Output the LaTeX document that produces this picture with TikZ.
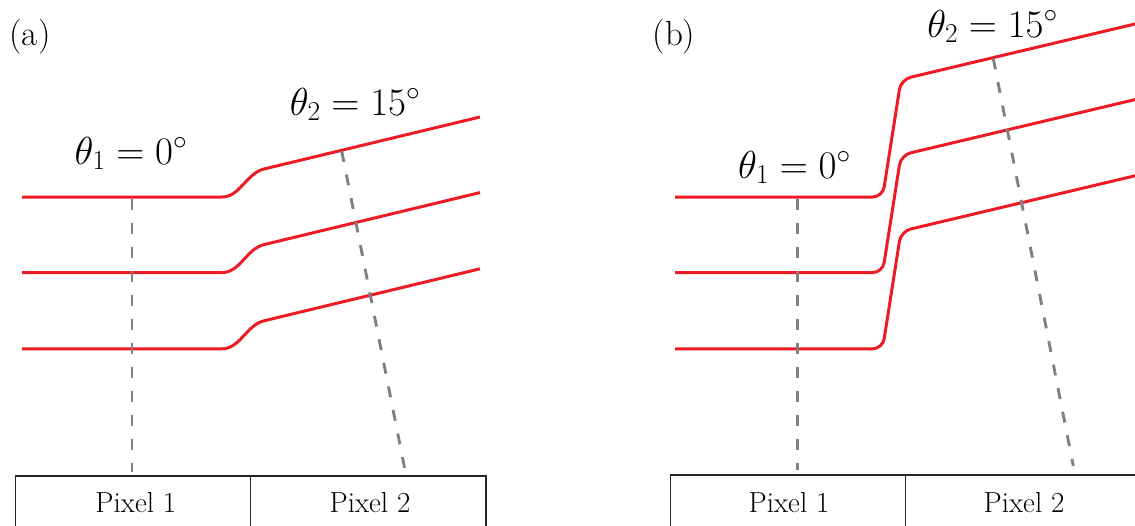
\RequirePackage{fix-cm}
\documentclass[tikz,border=0pt]{standalone}
\usepackage[no-math]{fontspec}
\definecolor{redline}{RGB}{237,28,36}
\definecolor{guidegray}{RGB}{128,128,128}
\begin{document}
\begin{tikzpicture}[x=1pt,y=-1pt,
  wave/.style={draw=redline, line width=3pt, line join=round},
  guide/.style={draw=guidegray, line width=2.9pt, dash pattern=on 11pt off 13pt},
  pixbox/.style={draw=black!85, line width=1.3pt},
  pixlabel/.style={font=\rmfamily\fontsize{29}{31}\selectfont, anchor=base, inner sep=0pt},
  anglelabel/.style={font=\fontsize{39}{41}\selectfont, anchor=base, inner sep=0pt},
  panel/.style={font=\rmfamily\fontsize{35}{37}\selectfont, anchor=base, inner sep=0pt}]
\useasboundingbox (0,0) rectangle (1135,525);
\clip (0,0) rectangle (1135,525);

% panel labels
\node[panel] (pa) at (30,45) {(a)};
\node[panel] (pb) at (674,45) {(b)};

% red wavefronts, panel (a)
\foreach \dy in {0,75.6,151.8}{
  \draw[wave] (22,{197+\dy}) -- (222,{197+\dy})
    .. controls (240,{197+\dy}) and (246.5,{173.2+\dy}) .. (264,{169+\dy})
    -- (480,{117+\dy});
}
% red wavefronts, panel (b)
\foreach \dy in {0,75.6,151.8}{
  \draw[wave, rounded corners=10pt] (675,{197+\dy}) -- (882.6,{197+\dy})
    -- (901,{79.5+\dy}) -- (1140,{22.8+\dy});
}

% guide lines
\coordinate (a1t) at (132,199);
\coordinate (a1b) at (132,472);
\coordinate (a2t) at (341.7,151);
\coordinate (a2b) at (405,470);
\coordinate (b1t) at (797.7,199);
\coordinate (b1b) at (797.7,470);
\coordinate (b2t) at (993.3,58.5);
\coordinate (b2b) at (1073.3,466);
\draw[guide] (a1t) -- (a1b);
\draw[guide] (a2t) -- (a2b);
\draw[guide] (b1t) -- (b1b);
\draw[guide] (b2t) -- (b2b);

% angle labels
\node[anglelabel] (ta1) at (131,164) {$\theta_1 = 0^\circ$};
\node[anglelabel] (ta2) at (355,115) {$\theta_2 = 15^\circ$};
\node[anglelabel] (tb1) at (794.5,178) {$\theta_1 = 0^\circ$};
\node[anglelabel] (tb2) at (992.5,37) {$\theta_2 = 15^\circ$};

% pixel boxes
\draw[pixbox] (15.7,530) -- (15.7,476) -- (486,476) -- (486,530);
\draw[pixbox] (250.7,476) -- (250.7,530);
\draw[pixbox] (670.7,530) -- (670.7,475) -- (1140,475);
\draw[pixbox] (905.7,475) -- (905.7,530);

\node[pixlabel] (pa1) at (135.8,512.5) {Pixel 1};
\node[pixlabel] (pa2) at (370,512.5) {Pixel 2};
\node[pixlabel] (pb1) at (789,512.5) {Pixel 1};
\node[pixlabel] (pb2) at (1024,512.5) {Pixel 2};
\end{tikzpicture}
\end{document}
